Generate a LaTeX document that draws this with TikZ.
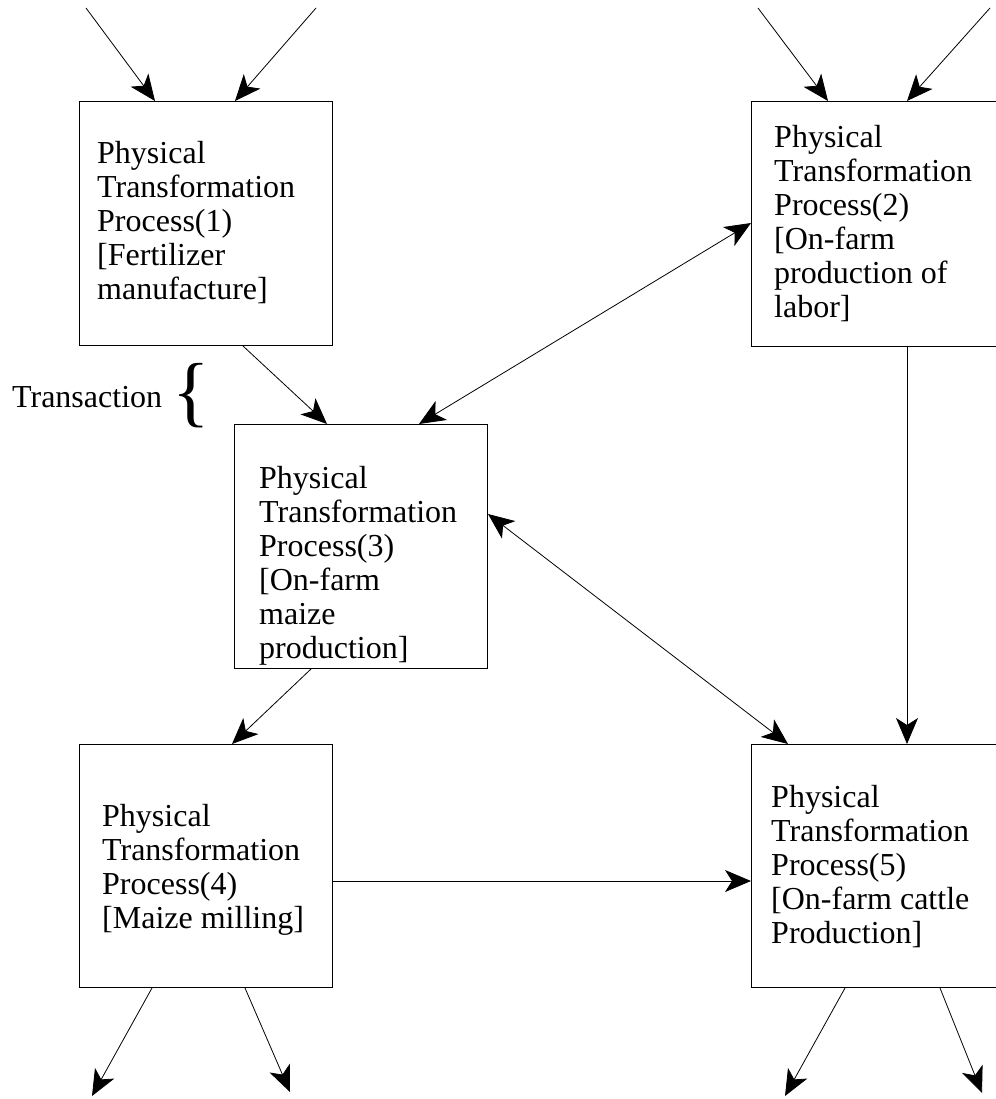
\documentclass[tikz,border=0pt]{standalone}
\usepackage{fontspec}
\setmainfont{Liberation Serif}
\usetikzlibrary{arrows.meta}
\begin{document}
\begin{tikzpicture}[x=1pt,y=-1pt,
  box/.style={draw=black,line width=1pt,rectangle,inner sep=0pt,anchor=north west},
  txt/.style={inner sep=0pt,anchor=base west,font={\fontsize{32}{34}\selectfont}},
  tip/.style={Stealth[length=26pt,width=22pt,inset=7pt]},
  arr/.style={line width=0.8pt,-{Stealth[length=26pt,width=22pt,inset=7pt]}},
  darr/.style={line width=0.8pt,{Stealth[length=26pt,width=22pt,inset=7pt]}-{Stealth[length=26pt,width=22pt,inset=7pt]}}]
\useasboundingbox (0,0) rectangle (995,1099);
% boxes
\node[box,minimum width=253pt,minimum height=244pt] (b1) at (79,101) {};
\node[box,minimum width=249pt,minimum height=245pt] (b2) at (751,101) {};
\node[box,minimum width=253pt,minimum height=244pt] (b3) at (234,424) {};
\node[box,minimum width=253pt,minimum height=243pt] (b4) at (79,744) {};
\node[box,minimum width=249pt,minimum height=243pt] (b5) at (751,744) {};
% texts
\node[txt] (t1) at (97,164) {\vtop{\hbox{Physical}\hbox{Transformation}\hbox{Process(1)}\hbox{[Fertilizer}\hbox{manufacture]}}};
\node[txt] (t2) at (774,148) {\vtop{\hbox{Physical}\hbox{Transformation}\hbox{Process(2)}\hbox{[On-farm}\hbox{production of}\hbox{labor]}}};
\node[txt] (t3) at (259,488) {\vtop{\hbox{Physical}\hbox{Transformation}\hbox{Process(3)}\hbox{[On-farm}\hbox{maize}\hbox{production]}}};
\node[txt] (t4) at (102,826) {\vtop{\hbox{Physical}\hbox{Transformation}\hbox{Process(4)}\hbox{[Maize milling]}}};
\node[txt] (t5) at (771,807) {\vtop{\hbox{Physical}\hbox{Transformation}\hbox{Process(5)}\hbox{[On-farm cattle}\hbox{Production]}}};
\node[txt] (tr) at (12,407) {Transaction};
\node[inner sep=0pt,font={\fontsize{78}{78}\selectfont}] (br) at (191,396) {\{};
% free ends
\coordinate (c1a) at (86,8);
\coordinate (c1b) at (316,8);
\coordinate (c2a) at (758,8);
\coordinate (c2b) at (990,8);
\coordinate (o4a) at (92,1096);
\coordinate (o4b) at (290,1092);
\coordinate (o5a) at (785,1096);
\coordinate (o5b) at (982,1093);
% connectors
\draw[arr] (c1a) -- ([xshift=76pt]b1.north west);
\draw[arr] (c1b) -- ([xshift=156pt]b1.north west);
\draw[arr] (c2a) -- ([xshift=77pt]b2.north west);
\draw[arr] (c2b) -- ([xshift=156pt]b2.north west);
\draw[arr] ([xshift=164pt]b1.south west) -- ([xshift=93pt]b3.north west);
\draw[darr] ([xshift=185pt]b3.north west) -- ([yshift=-122pt]b2.north west);
\draw[darr] ([yshift=-90pt]b3.north east) -- ([xshift=37pt]b5.north west);
\draw[arr] ([xshift=156pt]b2.south west) -- ([xshift=156pt]b5.north west);
\draw[arr] ([xshift=77pt]b3.south west) -- ([xshift=153pt]b4.north west);
\draw[arr] ([yshift=-137pt]b4.north east) -- ([yshift=-137pt]b5.north west);
\draw[arr] ([xshift=73pt]b4.south west) -- (o4a);
\draw[arr] ([xshift=166pt]b4.south west) -- (o4b);
\draw[arr] ([xshift=94pt]b5.south west) -- (o5a);
\draw[arr] ([xshift=189pt]b5.south west) -- (o5b);
\end{tikzpicture}
\end{document}
